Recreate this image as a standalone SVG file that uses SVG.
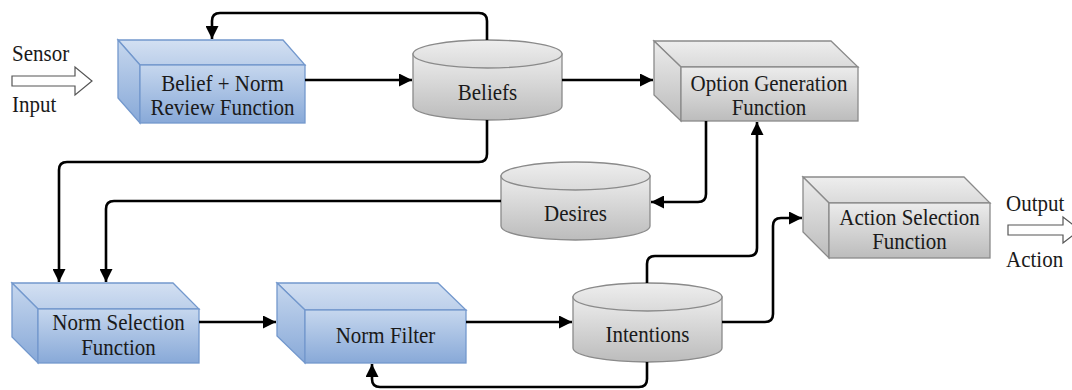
<svg xmlns="http://www.w3.org/2000/svg" width="1072" height="390" viewBox="0 0 1072 390">
<defs>
<linearGradient id="bf" x1="0" y1="0" x2="0" y2="1"><stop offset="0" stop-color="#c6d7ee"/><stop offset="1" stop-color="#88a9d8"/></linearGradient>
<linearGradient id="bt" x1="0" y1="0" x2="0" y2="1"><stop offset="0" stop-color="#d3e0f2"/><stop offset="1" stop-color="#bccfea"/></linearGradient>
<linearGradient id="gf" x1="0" y1="0" x2="0" y2="1"><stop offset="0" stop-color="#ececec"/><stop offset="1" stop-color="#bcbcbc"/></linearGradient>
<linearGradient id="gt" x1="0" y1="0" x2="0" y2="1"><stop offset="0" stop-color="#eeeeee"/><stop offset="1" stop-color="#dadada"/></linearGradient>
<marker id="ah" viewBox="0 0 10 10" refX="10" refY="5" markerWidth="5" markerHeight="5" markerUnits="strokeWidth" orient="auto"><path d="M0,0 L10,5 L0,10 z" fill="#000"/></marker>
</defs>
<style>
.blue polygon,.blue rect{fill:url(#bf);stroke:#7398cd;stroke-width:1.3}
.blue .top{fill:url(#bt)}
.gray polygon,.gray rect,.gray path,.gray ellipse{fill:url(#gf);stroke:#8a8a8a;stroke-width:1.3}
.gray .top{fill:url(#gt)}
text{font-family:"Liberation Serif","Times New Roman",serif;font-size:21px;fill:#1a1a1a}
.c{text-anchor:middle}
#connectors path{fill:none;stroke:#000;stroke-width:2.6}
.blk{fill:#fff;stroke:#555;stroke-width:1.2}
</style>

<g id="sensor-input">
<polygon class="blk" points="12,76 75,76 75,67 92,81 75,95 75,86 12,86"/>
<text transform="translate(12,61) scale(1,1.08)">Sensor</text>
<text transform="translate(12,112) scale(1,1.08)">Input</text>
</g>

<g id="output-action">
<polygon class="blk" points="1008,225 1063,225 1063,217 1080,230 1063,243 1063,235 1008,235"/>
<text transform="translate(1006,211) scale(1,1.08)">Output</text>
<text transform="translate(1006,267) scale(1,1.08)">Action</text>
</g>

<g id="belief-norm-review" class="blue">
<polygon class="top" points="118,40 283,40 305,65 140,65"/>
<polygon points="118,40 140,65 140,123 118,98"/>
<rect x="140" y="65" width="165" height="58"/>
<text class="c" transform="translate(222.5,91) scale(1,1.08)">Belief + Norm</text>
<text class="c" transform="translate(222.5,115) scale(1,1.08)">Review Function</text>
</g>

<g id="beliefs" class="gray">
<path d="M413,54 V106 A74.5,14 0 0 0 562,106 V54 z"/>
<ellipse class="top" cx="487.5" cy="54" rx="74.5" ry="14"/>
<text class="c" transform="translate(487.5,100) scale(1,1.12)">Beliefs</text>
</g>

<g id="option-generation" class="gray">
<polygon class="top" points="654,41 831,41 858,67 681,67"/>
<polygon points="654,41 681,67 681,121 654,95"/>
<rect x="681" y="67" width="177" height="54"/>
<text class="c" transform="translate(769,91) scale(1,1.08)">Option Generation</text>
<text class="c" transform="translate(769,115) scale(1,1.08)">Function</text>
</g>

<g id="desires" class="gray">
<path d="M501,176 V226 A74.5,14 0 0 0 650,226 V176 z"/>
<ellipse class="top" cx="575.5" cy="176" rx="74.5" ry="14"/>
<text class="c" transform="translate(575.5,221) scale(1,1.12)">Desires</text>
</g>

<g id="action-selection" class="gray">
<polygon class="top" points="803,177 964,177 990,203 829,203"/>
<polygon points="803,177 829,203 829,258 803,232"/>
<rect x="829" y="203" width="161" height="55"/>
<text class="c" transform="translate(909.5,225) scale(1,1.08)">Action Selection</text>
<text class="c" transform="translate(909.5,249) scale(1,1.08)">Function</text>
</g>

<g id="norm-selection" class="blue">
<polygon class="top" points="12,283 173,283 199,309 38,309"/>
<polygon points="12,283 38,309 38,363 12,337"/>
<rect x="38" y="309" width="161" height="54"/>
<text class="c" transform="translate(118.5,330) scale(1,1.08)">Norm Selection</text>
<text class="c" transform="translate(118.5,355) scale(1,1.08)">Function</text>
</g>

<g id="norm-filter" class="blue">
<polygon class="top" points="277,283 438,283 466,310 305,310"/>
<polygon points="277,283 305,310 305,363 277,336"/>
<rect x="305" y="310" width="161" height="53"/>
<text class="c" transform="translate(385.5,343) scale(1,1.12)">Norm Filter</text>
</g>

<g id="intentions" class="gray">
<path d="M573,297 V348 A74.5,14 0 0 0 722,348 V297 z"/>
<ellipse class="top" cx="647.5" cy="297" rx="74.5" ry="14"/>
<text class="c" transform="translate(647.5,342) scale(1,1.12)">Intentions</text>
</g>

<g id="connectors">
<path d="M305,80 H412" marker-end="url(#ah)"/>
<path d="M562,80 H653" marker-end="url(#ah)"/>
<path d="M487,40 V21 Q487,13 479,13 H220 Q212,13 212,21 V39" marker-end="url(#ah)"/>
<path d="M487,120 V154 Q487,162 479,162 H67 Q59,162 59,170 V282" marker-end="url(#ah)"/>
<path d="M501,201 H114 Q106,201 106,209 V282" marker-end="url(#ah)"/>
<path d="M706,121 V194 Q706,202 698,202 H651" marker-end="url(#ah)"/>
<path d="M647,283 V264 Q647,256 655,256 H749 Q757,256 757,248 V122" marker-end="url(#ah)"/>
<path d="M722,322 H765 Q773,322 773,314 V226 Q773,218 781,218 H802" marker-end="url(#ah)"/>
<path d="M647,362 V379 Q647,387 639,387 H380 Q372,387 372,379 V364" marker-end="url(#ah)"/>
<path d="M199,322 H276" marker-end="url(#ah)"/>
<path d="M466,322 H572" marker-end="url(#ah)"/>
</g>
</svg>
